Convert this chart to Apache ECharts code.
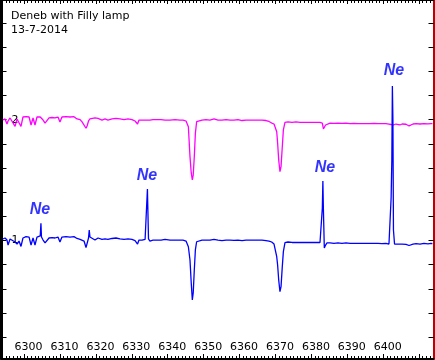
<!DOCTYPE html>
<html>
<head>
<meta charset="utf-8">
<script src="https://cdn.jsdelivr.net/npm/echarts@6/dist/echarts.min.js"></script>
<style>
  html, body { margin: 0; padding: 0; background: #fff; }
  #chart { width: 435px; height: 360px; }
</style>
</head>
<body>
<div id="chart"></div>
<script>
// wavelength grid (Angstrom), shared by both traces
const wavelengths = [
  6294.1, 6294.7, 6295.25, 6295.55, 6296.1, 6296.65, 6297.5, 6298.05, 6298.6, 6299.15,
  6299.7, 6300.55, 6301.4, 6301.95, 6302.5, 6303.05, 6303.6, 6304.15, 6304.5, 6304.7,
  6304.85, 6305.3, 6305.85, 6306.4, 6306.95, 6307.8, 6308.6, 6309.45, 6310.0, 6310.55,
  6311.7, 6312.8, 6313.9, 6314.75, 6315.6, 6316.15, 6316.7, 6317.25, 6317.55, 6317.95,
  6318.15, 6318.35, 6318.9, 6319.75, 6320.6, 6321.7, 6322.55, 6323.35, 6324.5, 6325.6,
  6326.7, 6327.85, 6328.95, 6330.05, 6330.9, 6331.6, 6332.0, 6332.85, 6333.7, 6334.15,
  6334.35, 6334.65, 6335.05, 6335.9, 6337.0, 6338.15, 6339.25, 6340.65, 6342.05, 6343.4,
  6344.25, 6345.1, 6345.75, 6346.2, 6346.55, 6346.85, 6347.1, 6347.4, 6347.7, 6348.05,
  6348.5, 6349.55, 6350.65, 6351.75, 6352.9, 6354.0, 6355.1, 6356.25, 6357.35, 6358.45,
  6359.55, 6360.7, 6361.8, 6362.9, 6364.0, 6365.15, 6366.25, 6367.35, 6368.2, 6368.95,
  6369.6, 6370.35, 6370.6, 6370.9, 6371.25, 6371.55, 6371.9, 6372.2, 6372.65, 6373.5,
  6374.6, 6375.7, 6376.85, 6377.95, 6379.05, 6380.15, 6381.3, 6382.4, 6382.8, 6383.05,
  6383.2, 6383.35, 6383.6, 6383.95, 6384.35, 6385.2, 6386.3, 6387.4, 6388.5, 6389.65,
  6390.75, 6391.85, 6393.0, 6394.1, 6395.2, 6396.3, 6397.45, 6398.55, 6399.65, 6400.75,
  6401.6, 6402.05, 6402.2, 6402.4, 6402.55, 6402.7, 6402.85, 6403.15, 6403.55, 6404.1,
  6404.65, 6405.25, 6406.35, 6407.2, 6408.3, 6409.15, 6410.25, 6411.35, 6412.45, 6413.3,
  6413.7
];

// Deneb alone (magenta, shifted to 2)
const denebFlux = [
  1.997, 2.006, 1.964, 1.989, 2.014, 2.006, 1.944, 2.006, 2.014, 1.944,
  2.022, 2.025, 2.022, 1.956, 2.014, 1.956, 2.022, 2.022, 2.022, 2.014,
  2.014, 1.997, 1.972, 1.968, 2.014, 2.018, 2.014, 2.022, 1.981, 2.022,
  2.025, 2.022, 2.025, 2.006, 2.001, 1.981, 1.989, 1.929, 1.948, 1.989,
  1.997, 2.006, 2.014, 2.014, 2.010, 1.997, 2.006, 1.997, 2.006, 2.010,
  2.006, 2.001, 2.006, 2.001, 1.989, 1.964, 1.997, 1.997, 1.997, 1.997,
  1.997, 1.993, 1.997, 2.001, 2.001, 2.001, 1.997, 1.997, 2.001, 1.997,
  1.997, 1.989, 1.942, 1.694, 1.559, 1.501, 1.542, 1.694, 1.887, 1.983,
  1.997, 1.997, 2.001, 1.997, 2.006, 1.997, 1.997, 2.001, 1.997, 1.997,
  2.001, 1.993, 1.997, 1.997, 1.997, 1.997, 1.997, 1.993, 1.985, 1.972,
  1.964, 1.900, 1.807, 1.666, 1.570, 1.611, 1.776, 1.915, 1.978, 1.981,
  1.977, 1.981, 1.977, 1.978, 1.977, 1.977, 1.978, 1.977, 1.977, 1.972,
  1.964, 1.923, 1.939, 1.956, 1.972, 1.972, 1.970, 1.972, 1.970, 1.972,
  1.968, 1.970, 1.968, 1.968, 1.968, 1.968, 1.970, 1.968, 1.967, 1.968,
  1.964, 1.964, 1.960, 1.956, 1.948, 1.948, 1.956, 1.964, 1.964, 1.968,
  1.956, 1.964, 1.962, 1.948, 1.964, 1.967, 1.964, 1.968, 1.966, 1.968,
  1.967
];

// Deneb + Filly (neon) lamp (blue, at 1)
const lampFlux = [
  1.013, 1.021, 1.004, 0.963, 1.013, 1.021, 0.988, 0.971, 0.996, 0.951,
  1.021, 1.032, 1.029, 0.963, 1.021, 0.963, 1.029, 1.029, 1.038, 1.143,
  1.029, 1.004, 0.980, 0.976, 1.021, 1.025, 1.021, 1.029, 0.988, 1.029,
  1.032, 1.029, 1.032, 1.017, 1.009, 1.004, 0.996, 0.942, 0.955, 1.021,
  1.087, 1.029, 1.021, 1.004, 1.021, 1.009, 1.013, 1.009, 1.017, 1.021,
  1.013, 1.010, 1.013, 1.009, 1.000, 0.971, 1.004, 1.004, 1.009, 1.009,
  1.426, 1.013, 0.996, 1.004, 1.004, 1.004, 1.009, 1.004, 1.004, 1.004,
  1.004, 0.996, 0.949, 0.839, 0.649, 0.508, 0.566, 0.756, 0.922, 0.990,
  1.004, 1.004, 1.004, 1.004, 1.009, 1.004, 1.000, 1.004, 1.004, 1.002,
  1.004, 1.000, 1.004, 1.004, 1.004, 1.004, 1.004, 1.000, 0.996, 0.988,
  0.971, 0.866, 0.798, 0.674, 0.577, 0.618, 0.784, 0.908, 0.982, 0.988,
  0.984, 0.985, 0.984, 0.985, 0.984, 0.984, 0.984, 0.984, 0.984, 1.269,
  1.493, 1.253, 0.938, 0.963, 0.980, 0.980, 0.977, 0.980, 0.977, 0.980,
  0.976, 0.977, 0.976, 0.976, 0.976, 0.976, 0.977, 0.976, 0.974, 0.976,
  0.971, 0.971, 1.352, 1.666, 2.279, 1.997, 1.087, 0.971, 0.963, 0.971,
  0.955, 0.971, 0.969, 0.959, 0.971, 0.974, 0.971, 0.976, 0.973, 0.976,
  0.974
];

// neon lamp annotations: where each "Ne" label sits
const neLabelWl = [6304.44, 6334.23, 6383.79, 6403.0];
const neLabelLevel = [1.253, 1.534, 1.604, 2.403];

// axis ticks and labels
const xTickValues = [6300, 6310, 6320, 6330, 6340, 6350, 6360, 6370, 6380, 6390, 6400, 6410];
const xLabelValues = [6300, 6310, 6320, 6330, 6340, 6350, 6360, 6370, 6380, 6390, 6400];
const yTickValues = [0.2, 0.4, 0.6, 0.8, 1.0, 1.2, 1.4, 1.6, 1.8, 2.0, 2.2, 2.4, 2.6, 2.8];
const yLabelValues = [1, 2];

const X_MIN = 6294;
const X_MAX = 6414;
const Y_MIN = 0.02;
const Y_MAX = 2.99;

// one small tick per Angstrom
const xMinorTickValues = [];
for (let w = X_MIN + 1; w < X_MAX; w++) xMinorTickValues.push(w);

const toPairs = flux => wavelengths.map((w, i) => [w, flux[i]]);

const xBase = {
  type: 'value',
  min: X_MIN,
  max: X_MAX,
  splitLine: { show: false },
};

const yBase = {
  type: 'value',
  min: Y_MIN,
  max: Y_MAX,
  splitLine: { show: false },
};

const tickStyle = { color: '#000', width: 1 };

const chart = echarts.init(document.getElementById('chart'), null, { renderer: 'canvas' });

chart.setOption({
  animation: false,
  backgroundColor: '#fff',
  title: {
    text: 'Deneb with Filly lamp\n13-7-2014',
    left: 11,
    top: 9,
    padding: 0,
    textStyle: {
      fontFamily: 'DejaVu Sans',
      fontSize: 11,
      fontWeight: 'normal',
      color: '#000',
      lineHeight: 14,
    },
  },
  grid: { left: 2.5, right: 1.5, top: 0, bottom: 1, containLabel: false },
  xAxis: [
    {
      ...xBase,
      position: 'bottom',
      axisLine: { show: true, onZero: false, lineStyle: { color: '#000', width: 2 } },
      axisTick: { show: true, inside: true, length: 5, customValues: xTickValues, lineStyle: tickStyle },
      axisLabel: {
        show: true,
        inside: true,
        customValues: xLabelValues,
        formatter: v => String(v),
        margin: 6,
        padding: [0, 0, 0, 9],
        fontFamily: 'DejaVu Sans',
        fontSize: 11,
        color: '#000',
      },
    },
    {
      ...xBase,
      position: 'bottom',
      axisLine: { show: false, onZero: false },
      axisTick: { show: true, inside: true, length: 3, customValues: xMinorTickValues, lineStyle: tickStyle },
      axisLabel: { show: false },
    },
    {
      ...xBase,
      position: 'top',
      axisLine: { show: true, onZero: false, lineStyle: { color: '#000', width: 1 } },
      axisTick: { show: true, inside: true, length: 4, customValues: xTickValues, lineStyle: tickStyle },
      axisLabel: { show: false },
    },
    {
      ...xBase,
      position: 'top',
      axisLine: { show: false, onZero: false },
      axisTick: { show: true, inside: true, length: 3, customValues: xMinorTickValues, lineStyle: tickStyle },
      axisLabel: { show: false },
    },
  ],
  yAxis: [
    {
      ...yBase,
      position: 'left',
      offset: 1,
      axisLine: { show: true, onZero: false, lineStyle: { color: '#000', width: 3 } },
      axisTick: { show: true, inside: true, length: 5, customValues: yTickValues, lineStyle: tickStyle },
      axisLabel: {
        show: true,
        inside: true,
        customValues: yLabelValues,
        formatter: v => String(v),
        margin: 10,
        fontFamily: 'DejaVu Sans',
        fontSize: 11,
        color: '#000',
      },
    },
    {
      ...yBase,
      position: 'right',
      axisLine: { show: true, onZero: false, lineStyle: { color: '#c00000', width: 2 } },
      axisTick: { show: true, inside: true, length: 5, customValues: yTickValues, lineStyle: tickStyle },
      axisLabel: { show: false },
    },
  ],
  series: [
    {
      name: 'Deneb',
      type: 'line',
      xAxisIndex: 0,
      yAxisIndex: 0,
      data: toPairs(denebFlux),
      showSymbol: false,
      lineStyle: { color: '#ff00ff', width: 1.3 },
      z: 3,
    },
    {
      name: 'Deneb + Filly lamp',
      type: 'line',
      xAxisIndex: 0,
      yAxisIndex: 0,
      data: toPairs(lampFlux),
      showSymbol: false,
      lineStyle: { color: '#0000ff', width: 1.3 },
      z: 4,
    },
    {
      name: 'Ne',
      type: 'scatter',
      xAxisIndex: 0,
      yAxisIndex: 0,
      data: neLabelWl.map((w, i) => [w, neLabelLevel[i]]),
      symbolSize: 0,
      silent: true,
      label: {
        show: true,
        position: 'inside',
        formatter: 'Ne',
        fontFamily: 'Liberation Sans',
        fontSize: 16,
        fontWeight: 'bold',
        fontStyle: 'italic',
        color: '#0000ff',
      },
      z: 5,
    },
  ],
});
</script>
</body>
</html>
